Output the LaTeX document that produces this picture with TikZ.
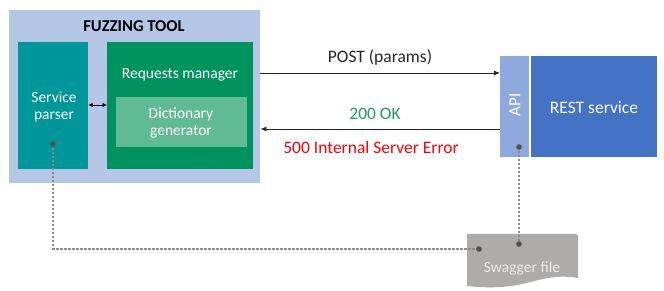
\documentclass[tikz,border=0pt]{standalone}
\usepackage{fontspec}
\setmainfont{Carlito}
\usetikzlibrary{arrows.meta}
\definecolor{outerblue}{HTML}{B4C7E7}
\definecolor{teal1}{HTML}{00979A}
\definecolor{green1}{HTML}{009360}
\definecolor{dictgreen}{HTML}{5FBA95}
\definecolor{apiblue}{HTML}{8EA9DB}
\definecolor{restblue}{HTML}{4472C4}
\definecolor{okgreen}{HTML}{229A68}
\definecolor{swgray}{HTML}{AEABAB}
\definecolor{dashgray}{HTML}{8A8A8A}
\definecolor{dotgray}{HTML}{505050}
\tikzset{
  box/.style={draw=none, inner sep=0pt, anchor=north west},
  lbl/.style={inner sep=0pt, font=\fontsize{15.5}{18.5}\selectfont},
  biglbl/.style={inner sep=0pt, font=\fontsize{17.5}{21}\selectfont},
  flow/.style={draw=black!85, line width=0.8pt, -{Latex[length=6pt,width=5pt]}},
  dashline/.style={draw=dashgray, line width=1.1pt, dash pattern=on 2.5pt off 1.5pt},
  dot/.style={fill=dotgray}
}
\begin{document}
\begin{tikzpicture}[x=1pt,y=-1pt]
\useasboundingbox (0,0) rectangle (664,291);
\node[box, fill=outerblue, minimum width=251pt, minimum height=173pt] (outer) at (9,10) {};
\node[inner sep=0pt, font=\fontsize{16.6}{20}\selectfont\bfseries, text=black] (title) at (134,26) {FUZZING TOOL};
\node[box, fill=teal1, minimum width=70pt, minimum height=127pt] (sp) at (18,42) {};
\node[lbl, text=white, align=center] (sptext) at (54,107) {Service\\[-1pt]parser};
\node[box, fill=green1, minimum width=146pt, minimum height=127pt] (rm) at (107,42) {};
\node[lbl, text=white] (rmtext) at (180,75) {Requests manager};
\node[box, fill=dictgreen, minimum width=131pt, minimum height=50pt] (dg) at (116,97) {};
\node[lbl, text=white, align=center] (dgtext) at (181,123) {Dictionary\\[-1pt]generator};
\node[box, fill=apiblue, minimum width=29pt, minimum height=101pt] (api) at (500,56) {};
\node[inner sep=0pt, font=\fontsize{17}{20}\selectfont, text=white, rotate=90] (apitext) at (515,105) {API};
\node[box, fill=restblue, minimum width=126pt, minimum height=101pt] (rest) at (531,56) {};
\node[biglbl, text=white] (resttext) at (594,108) {REST service};
% swagger document
\fill[swgray] (467,234) -- (576,234) -- (578,236) -- (578,278)
  .. controls (555,274) and (540,280) .. (522,284)
  .. controls (505,288) and (485,288) .. (467,286) -- cycle;
\node[lbl, text=white!92!black] (swagger) at (522,268) {Swagger file};
% arrows
\draw[flow] (outer.east |- 0,73) -- (api.west |- 0,73);
\draw[flow] (api.west |- 0,129) -- (outer.east |- 0,129);
\draw[draw=black, line width=0.8pt, {Latex[length=4.5pt,width=4.5pt]}-{Latex[length=4.5pt,width=4.5pt]}] (sp.east |- 0,105) -- (rm.west |- 0,105);
\node[biglbl, text=black!85] (post) at (380,58) {POST (params)};
\node[biglbl, text=okgreen] (ok) at (375,114) {200 OK};
\node[biglbl, text=red] (err) at (371,147) {500 Internal Server Error};
% dots and dashed connectors
\coordinate (spdot) at (53,144);
\coordinate (apidot) at (519,147);
\coordinate (swl) at (479,249);
\coordinate (swr) at (519,244);
\draw[dashline] (spdot) |- (swl);
\draw[dashline] (apidot) -- (swr);
\foreach \p in {spdot,apidot,swl,swr} \fill[dot] (\p) circle (2.8pt);
\end{tikzpicture}
\end{document}
